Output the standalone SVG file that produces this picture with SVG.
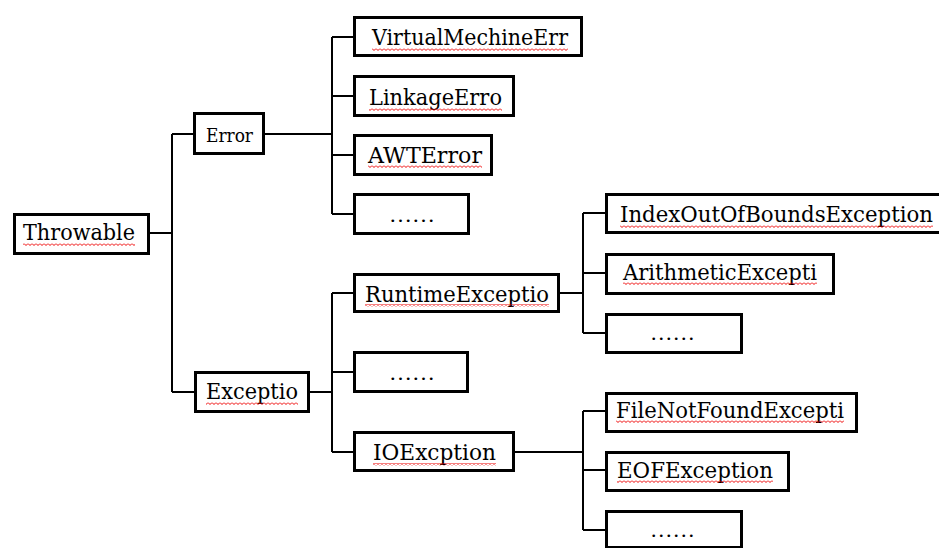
<svg xmlns="http://www.w3.org/2000/svg" width="939" height="548" viewBox="0 0 939 548">
<style>
.box{fill:#fff;stroke:#000;stroke-width:3}
.t{font-family:"DejaVu Serif","Liberation Serif",serif;font-size:23px;fill:#000}
.s{font-size:19px}
.d{font-family:"Liberation Serif",serif;font-size:20px}
.sq{fill:url(#squig)}
.c{stroke:#000;stroke-width:2;fill:none}
</style>
<defs>
<pattern id="squig" x="0" y="0" width="4" height="3" patternUnits="userSpaceOnUse">
<path d="M0,0.5 L2,2.5 L4,0.5" stroke="#e00" stroke-width="1" fill="none"/>
</pattern>
</defs>
<rect width="939" height="548" fill="#fff"/>
<g id="connectors">
<path class="c" d="M150,233 H172 M172,134 V392 M172,134 H193 M172,392 H194"/>
<path class="c" d="M265,134 H332 M332,37 V214 M332,37 H353 M332,96 H353 M332,155 H353 M332,214 H353"/>
<path class="c" d="M310,392 H332 M332,293 V452 M332,293 H353 M332,372 H353 M332,452 H353"/>
<path class="c" d="M560,293 H583 M583,213 V333 M583,213 H605 M583,273 H605 M583,333 H605"/>
<path class="c" d="M515,452 H583 M583,411 V530 M583,411 H605 M583,470 H605 M583,530 H605"/>
</g>
<g id="throwable">
<rect class="box" x="14.5" y="214.5" width="134" height="39"/>
<text class="t" x="23" y="240" textLength="112" lengthAdjust="spacingAndGlyphs">Throwable</text>
<rect class="sq" x="23" y="243" width="112" height="3"/>
</g>
<g id="error">
<rect class="box" x="194.5" y="113.5" width="69" height="40"/>
<text class="t s" x="206" y="142" textLength="47" lengthAdjust="spacingAndGlyphs">Error</text>
</g>
<g id="virtualmachineerr">
<rect class="box" x="354.5" y="17.5" width="227" height="38"/>
<text class="t" x="372" y="45" textLength="196" lengthAdjust="spacingAndGlyphs">VirtualMechineErr</text>
<rect class="sq" x="372" y="48" width="196" height="3"/>
</g>
<g id="linkageerro">
<rect class="box" x="354.5" y="76.5" width="159" height="39"/>
<text class="t" x="369" y="105" textLength="133" lengthAdjust="spacingAndGlyphs">LinkageErro</text>
<rect class="sq" x="369" y="108" width="133" height="3"/>
</g>
<g id="awterror">
<rect class="box" x="354.5" y="135.5" width="137" height="39"/>
<text class="t" x="368" y="163" textLength="114" lengthAdjust="spacingAndGlyphs">AWTError</text>
<rect class="sq" x="368" y="165" width="114" height="3"/>
</g>
<g id="error-more">
<rect class="box" x="354.5" y="194.5" width="114" height="39"/>
<text class="t d" x="389" y="222" textLength="46" lengthAdjust="spacingAndGlyphs">……</text>
</g>
<g id="exceptio">
<rect class="box" x="195.5" y="372.5" width="113" height="39"/>
<text class="t" x="206" y="399" textLength="92" lengthAdjust="spacingAndGlyphs">Exceptio</text>
<rect class="sq" x="206" y="402" width="92" height="3"/>
</g>
<g id="runtimeexceptio">
<rect class="box" x="354.5" y="274.5" width="204" height="37"/>
<text class="t" x="365" y="302" textLength="184" lengthAdjust="spacingAndGlyphs">RuntimeExceptio</text>
<rect class="sq" x="365" y="304" width="184" height="3"/>
</g>
<g id="exception-more">
<rect class="box" x="354.5" y="352.5" width="113" height="39"/>
<text class="t d" x="389" y="380" textLength="46" lengthAdjust="spacingAndGlyphs">……</text>
</g>
<g id="ioexcption">
<rect class="box" x="354.5" y="432.5" width="159" height="38"/>
<text class="t" x="373" y="460" textLength="123" lengthAdjust="spacingAndGlyphs">IOExcption</text>
<rect class="sq" x="373" y="463" width="123" height="3"/>
</g>
<g id="indexoutofbounds">
<rect class="box" x="606.5" y="194.5" width="340" height="38"/>
<text class="t" x="620" y="222" textLength="313" lengthAdjust="spacingAndGlyphs">IndexOutOfBoundsException</text>
<rect class="sq" x="620" y="225" width="313" height="3"/>
</g>
<g id="arithmeticexcepti">
<rect class="box" x="606.5" y="254.5" width="227" height="39"/>
<text class="t" x="623" y="280" textLength="194" lengthAdjust="spacingAndGlyphs">ArithmeticExcepti</text>
<rect class="sq" x="623" y="282" width="194" height="3"/>
</g>
<g id="runtime-more">
<rect class="box" x="606.5" y="314.5" width="135" height="38"/>
<text class="t d" x="650" y="340" textLength="45" lengthAdjust="spacingAndGlyphs">……</text>
</g>
<g id="filenotfoundexcepti">
<rect class="box" x="606.5" y="393.5" width="250" height="38"/>
<text class="t" x="616" y="418" textLength="228" lengthAdjust="spacingAndGlyphs">FileNotFoundExcepti</text>
<rect class="sq" x="616" y="420" width="228" height="3"/>
</g>
<g id="eofexception">
<rect class="box" x="606.5" y="452.5" width="182" height="38"/>
<text class="t" x="617" y="478" textLength="156" lengthAdjust="spacingAndGlyphs">EOFException</text>
<rect class="sq" x="617" y="480" width="156" height="3"/>
</g>
<g id="io-more">
<rect class="box" x="606.5" y="511.5" width="135" height="36"/>
<text class="t d" x="650" y="537" textLength="45" lengthAdjust="spacingAndGlyphs">……</text>
</g>
</svg>
